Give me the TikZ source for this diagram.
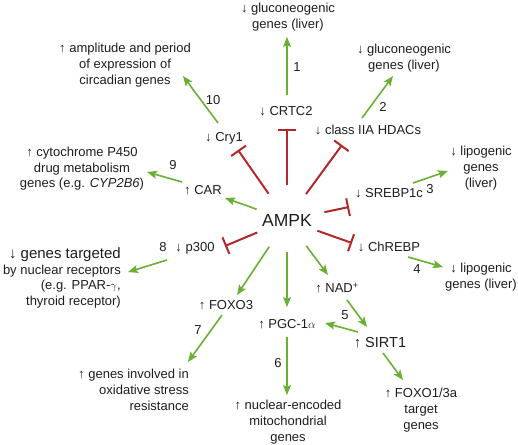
\documentclass[tikz,border=0pt]{standalone}
\usepackage{fontspec}
\setmainfont{Liberation Sans}
\usetikzlibrary{arrows.meta}
\definecolor{grn}{RGB}{106,176,52}
\definecolor{rd}{RGB}{178,40,42}
\definecolor{txt}{RGB}{30,30,30}
\tikzset{
  lbl/.style={font=\fontsize{13}{15.7}\selectfont, text=txt, inner sep=0pt, align=center},
  one/.style={lbl, text height=9.3pt, text depth=0pt},
  act/.style={draw=grn, line width=1.6pt, -{Stealth[length=10pt,width=8pt,inset=2pt]}},
  inh/.style={draw=rd, line width=2pt, -{Bar[width=18pt]}},
}
\begin{document}
\begin{tikzpicture}[x=1pt,y=-1pt]
\useasboundingbox (0,0) rectangle (518,444);
\fill[white] (0,0) rectangle (518,444);

% central node
\node[circle, minimum size=64pt, inner sep=0pt, font=\fontsize{17.5}{20}\selectfont, text=txt] (ampk) at (287,220) {AMPK};

% single-line nodes
\node[one] (crtc2) at (286,111) {↓ CRTC2};
\node[one] (hdac) at (368,130) {↓ class IIA HDACs};
\node[one] (cry1) at (224,137) {↓ Cry1};
\node[one] (car) at (203,190) {↑ CAR};
\node[one] (p300) at (195,247) {↓ p300};
\node[one] (srebp) at (389,193) {↓ SREBP1c};
\node[one] (chrebp) at (389,247) {↓ ChREBP};
\node[one] (nad) at (337,288) {↑ NAD\textsuperscript{+}};
\node[one, font=\fontsize{14.5}{16}\selectfont, text height=10.4pt] (sirt) at (380,342) {↑ SIRT1};
\node[one] (pgc) at (287,324) {↑ PGC-1$\alpha$};
\node[one] (foxo3) at (226,305) {↑ FOXO3};

% multi-line outcome nodes
\node[lbl] (g1) at (288,17) {↓ gluconeogenic\\genes (liver)};
\node[lbl] (g2) at (404,58) {↓ gluconeogenic\\genes (liver)};
\node[lbl] (circ) at (125,65) {↑ amplitude and period\\of expression of\\circadian genes};
\node[lbl, font=\fontsize{13}{15.5}\selectfont] (cyp) at (82,169) {↑ cytochrome P450\\drug metabolism\\genes (e.g. \textit{CYP2B6})};
\node[lbl, align=right, anchor=east, font=\fontsize{13}{15.6}\selectfont] (nuc) at (121,278) {{\fontsize{15}{16}\selectfont ↓ genes targeted}\\by nuclear receptors\\(e.g. PPAR-$\gamma$,\\thyroid receptor)};
\node[lbl] (lip1) at (481,168) {↓ lipogenic\\genes\\(liver)};
\node[lbl, font=\fontsize{13}{16.5}\selectfont] (lip2) at (481,277) {↓ lipogenic\\genes (liver)};
\node[lbl] (mito) at (288,422) {↑ nuclear-encoded\\mitochondrial\\genes};
\node[lbl] (foxo13) at (421,410) {↑ FOXO1/3a\\target\\genes};
\node[lbl, align=right, anchor=east] (ox) at (189,390) {↑ genes involved in\\oxidative stress\\resistance};

% number labels
\node[one] (n1) at (297,67) {1};
\node[one] (n2) at (383,107) {2};
\node[one] (n3) at (430,189) {3};
\node[one] (n4) at (417,269) {4};
\node[one] (n5) at (345,315) {5};
\node[one] (n6) at (278,363) {6};
\node[one] (n7) at (198,330) {7};
\node[one] (n8) at (163,247) {8};
\node[one] (n9) at (173,165) {9};
\node[one] (n10) at (213,100) {10};

% inhibitions from AMPK
\draw[inh, shorten <=3pt] (ampk) -- ([shift={(1,18)}]crtc2.center);
\draw[inh] (ampk) -- ([shift={(-26,15)}]hdac.center);
\draw[inh] (ampk) -- ([shift={(14,13)}]cry1.center);
\draw[inh] (ampk) -- ([shift={(30,-1)}]p300.center);
\draw[inh, shorten <=6pt] (ampk) -- ([shift={(-40,14)}]srebp.center);
\draw[inh] (ampk) -- ([shift={(-37,-4)}]chrebp.center);

% activations from AMPK
\draw[act] (ampk) -- ([shift={(22,8)}]car.center);
\draw[act] (ampk) -- ([shift={(11,-10)}]foxo3.center);
\draw[act] (ampk) -- ([shift={(0,-17)}]pgc.center);
\draw[act] (ampk) -- ([shift={(-9,-13)}]nad.center);

% downstream activations
\draw[act] ([shift={(1,-16)}]crtc2.center) -- ([shift={(-1,20)}]g1.center);
\draw[act] ([shift={(-6,-12)}]hdac.center) -- ([shift={(-11,18)}]g2.center);
\draw[act] ([shift={(24,-10)}]srebp.center) -- ([shift={(-33,3)}]lip1.center);
\draw[act] ([shift={(19,10)}]chrebp.center) -- ([shift={(-38,-10)}]lip2.center);
\draw[act] ([shift={(10,12)}]nad.center) -- ([shift={(-13,-15)}]sirt.center);
\draw[act] ([shift={(-22,-10)}]sirt.center) -- ([shift={(38,-1)}]pgc.center);
\draw[act] ([shift={(3,11)}]sirt.center) -- ([shift={(-18,-30)}]foxo13.center);
\draw[act] ([shift={(0,13)}]pgc.center) -- ([shift={(-1,-27)}]mito.center);
\draw[act] ([shift={(-4,10)}]foxo3.center) -- ([shift={(-1,-28)}]ox.east);
\draw[act] ([shift={(-28,13)}]p300.center) -- ([shift={(7,-6)}]nuc.east);
\draw[act] ([shift={(-21,-8)}]car.center) -- ([shift={(65,3)}]cyp.center);
\draw[act] ([shift={(-6,-14)}]cry1.center) -- ([shift={(58,11)}]circ.center);
\end{tikzpicture}
\end{document}
